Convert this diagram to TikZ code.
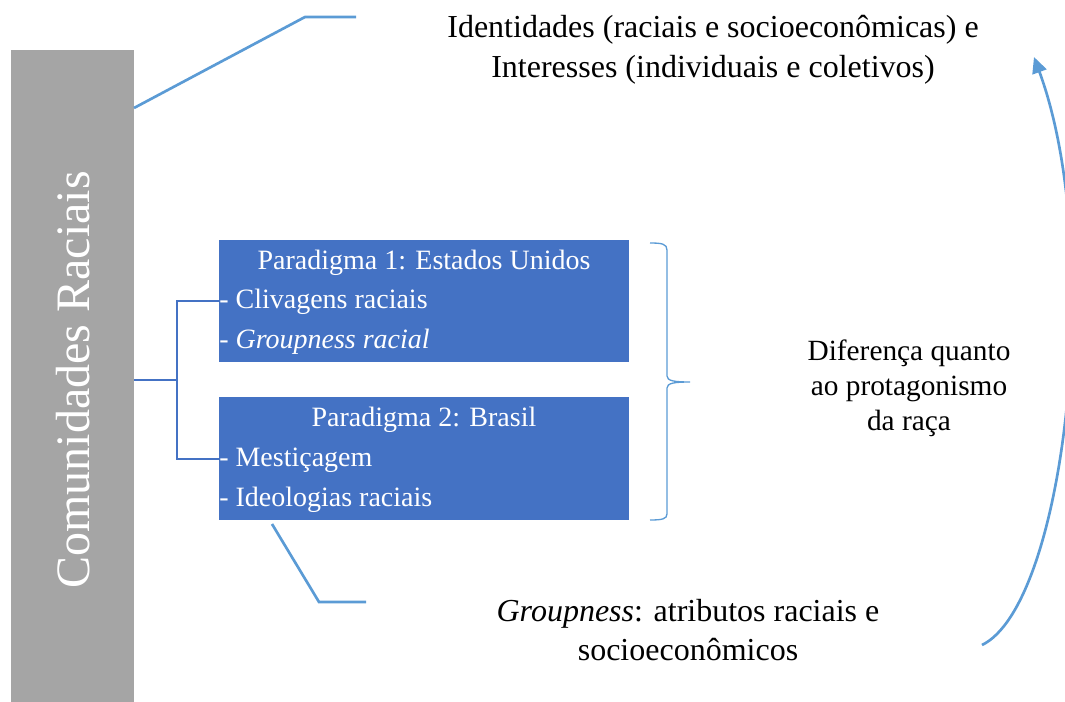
\documentclass[tikz,border=0pt]{standalone}
\usepackage{fontspec}
\setmainfont{Liberation Serif}
\usetikzlibrary{arrows.meta}
\definecolor{boxblue}{HTML}{4472C4}
\definecolor{lineblue}{HTML}{5B9BD5}
\definecolor{sidegray}{HTML}{A5A5A5}
\tikzset{
  pbox/.style={fill=boxblue, draw=none, inner sep=0pt},
  boxtxt/.style={text=white, font=\fontsize{21}{24}\selectfont, inner sep=0pt},
  plain/.style={text=black, font=\fontsize{24}{28}\selectfont, inner sep=0pt},
  midtxt/.style={text=black, font=\fontsize{22}{26}\selectfont, inner sep=0pt},
  callout/.style={draw=lineblue, line width=2pt},
  tree/.style={draw=boxblue, line width=2pt},
}
\begin{document}
\begin{tikzpicture}[x=0.75pt,y=-0.75pt]
\useasboundingbox (0,0) rectangle (1065,702);
% side bar
\path[fill=sidegray] (11,50) rectangle (134,702);
\node[rotate=90, text=white, font=\fontsize{36}{40}\selectfont, inner sep=0pt] (side) at (73,380) {Comunidades Raciais};
\coordinate (sideR) at (134,380);
\coordinate (sideTop) at (134,108);
% boxes
\path[pbox] (219,240) rectangle (629,362);
\node (b1) at (424,301) {};
\path[pbox] (219,397) rectangle (629,520);
\node (b2) at (424,458) {};
\node[boxtxt, anchor=base] (t1) at (424,270) {Paradigma 1: Estados Unidos};
\node[boxtxt, anchor=base west] (l1) at (219,309) {- Clivagens raciais};
\node[boxtxt, anchor=base west] (l2) at (219,349) {- \textit{Groupness racial}};
\node[boxtxt, anchor=base] (t2) at (424,427) {Paradigma 2: Brasil};
\node[boxtxt, anchor=base west] (l3) at (219,467) {- Mestiçagem};
\node[boxtxt, anchor=base west] (l4) at (219,507) {- Ideologias raciais};
% tree connector
\coordinate (j) at (177,380);
\coordinate (e1) at (219,301);
\coordinate (e2) at (219,459);
\draw[tree] (sideR) -- (j);
\draw[tree] (e1) -| (j) |- (e2);
% brace
\draw[draw=lineblue, line width=1pt] (650,243) .. controls (662,243) and (667,244) .. (667,250) -- (667,376) .. controls (667,381) and (675,382) .. (690,382) .. controls (675,382) and (667,383) .. (667,388) -- (667,514) .. controls (667,519) and (662,520) .. (650,520);
\node[midtxt, anchor=base] (d1) at (909,361) {Diferença quanto};
\node[midtxt, anchor=base] (d2) at (909,396) {ao protagonismo};
\node[midtxt, anchor=base] (d3) at (909,431) {da raça};
% top callout
\node[plain, anchor=base] (top1) at (713,38) {Identidades (raciais e socioeconômicas) e};
\node[plain, anchor=base] (top2) at (713,78) {Interesses (individuais e coletivos)};
\coordinate (c1) at (305,17);
\coordinate (c2) at (356,17);
\draw[callout] (sideTop) -- (c1) -- (c2);
% bottom callout
\node[plain, anchor=base] (bot1) at (688,621) {\textit{Groupness}: atributos raciais e};
\node[plain, anchor=base] (bot2) at (688,660) {socioeconômicos};
\coordinate (k0) at (272,524);
\coordinate (k1) at (319,602);
\coordinate (k2) at (366,602);
\draw[callout] (k0) -- (k1) -- (k2);
% curved arrow
\coordinate (a0) at (982,645);
\coordinate (a1) at (1034,57);
\draw[draw=lineblue, line width=2pt, -{Triangle[length=12pt,width=11pt]}] (a0) .. controls (1065,605) and (1105,250) .. (a1);
\end{tikzpicture}
\end{document}
